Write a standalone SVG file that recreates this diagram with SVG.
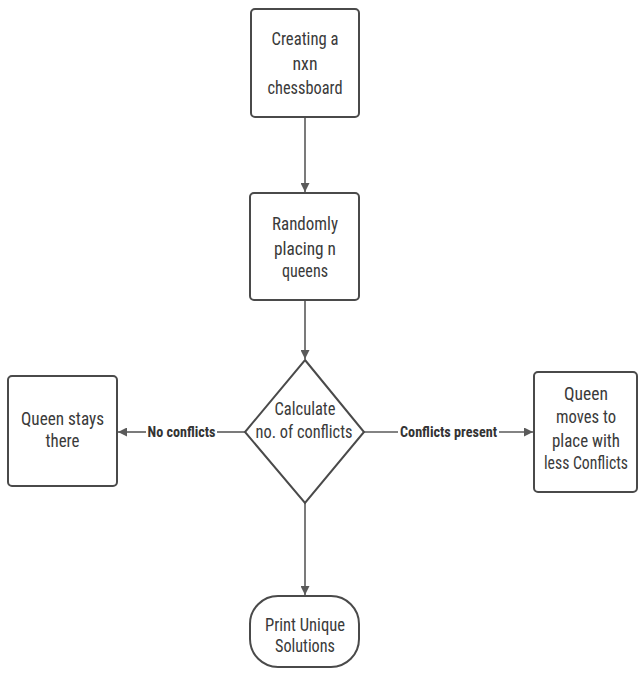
<svg xmlns="http://www.w3.org/2000/svg" width="638" height="673" viewBox="0 0 638 673">
<style>
.node{fill:#ffffff;stroke:#4a4a4a;stroke-width:2}
.t{font-family:"Liberation Sans Narrow","Roboto Condensed","Liberation Sans",Arial,sans-serif;font-size:19px;fill:#3a3a3a;text-anchor:middle}
.s{font-size:18px}
.lbl{font-family:"Liberation Sans Narrow","Roboto Condensed","Liberation Sans",Arial,sans-serif;font-size:14px;font-weight:bold;fill:#333;text-anchor:middle}
.edge{stroke:#5a5a5a;stroke-width:1.6;fill:none}
</style>
<defs>
<marker id="ah" viewBox="0 0 10 10" refX="10" refY="5" markerWidth="10" markerHeight="9" markerUnits="userSpaceOnUse" orient="auto">
<path d="M0,0 L10,5 L0,10 Z" fill="#5a5a5a"/>
</marker>
</defs>
<rect width="638" height="673" fill="#ffffff"/>
<g id="connectors">
<line class="edge" x1="305" y1="117" x2="305" y2="192" marker-end="url(#ah)"/>
<line class="edge" x1="305" y1="300" x2="305" y2="359" marker-end="url(#ah)"/>
<line class="edge" x1="245" y1="432" x2="217" y2="432"/>
<line class="edge" x1="146" y1="432" x2="118" y2="432" marker-end="url(#ah)"/>
<text class="lbl" x="181.5" y="437" textLength="68" lengthAdjust="spacingAndGlyphs">No conflicts</text>
<line class="edge" x1="364" y1="432" x2="398" y2="432"/>
<line class="edge" x1="499" y1="432" x2="533" y2="432" marker-end="url(#ah)"/>
<text class="lbl" x="448.5" y="437" textLength="97" lengthAdjust="spacingAndGlyphs">Conflicts present</text>
<line class="edge" x1="305" y1="503" x2="305" y2="595" marker-end="url(#ah)"/>
</g>
<g id="n1">
<rect class="node" x="251" y="9" width="108" height="108" rx="4"/>
<text class="t" x="305" y="45" textLength="67" lengthAdjust="spacingAndGlyphs">Creating a</text>
<text class="t" x="305" y="70" textLength="25" lengthAdjust="spacingAndGlyphs">nxn</text>
<text class="t" x="305" y="94" textLength="75" lengthAdjust="spacingAndGlyphs">chessboard</text>
</g>
<g id="n2">
<rect class="node" x="250" y="193" width="109" height="107" rx="4"/>
<text class="t" x="305" y="230" textLength="66" lengthAdjust="spacingAndGlyphs">Randomly</text>
<text class="t" x="305" y="255" textLength="62" lengthAdjust="spacingAndGlyphs">placing n</text>
<text class="t" x="305" y="277" textLength="46" lengthAdjust="spacingAndGlyphs">queens</text>
</g>
<g id="n3">
<polygon class="node" points="305,360 364,432 305,503 245,432"/>
<text class="t" x="305" y="415" textLength="61" lengthAdjust="spacingAndGlyphs">Calculate</text>
<text class="t" x="304" y="438" textLength="97" lengthAdjust="spacingAndGlyphs">no. of conflicts</text>
</g>
<g id="n4">
<rect class="node" x="8" y="376" width="109" height="110" rx="4"/>
<text class="t" x="62.5" y="425" textLength="83" lengthAdjust="spacingAndGlyphs">Queen stays</text>
<text class="t" x="62.5" y="447" textLength="34" lengthAdjust="spacingAndGlyphs">there</text>
</g>
<g id="n5">
<rect class="node" x="534" y="372" width="103" height="120" rx="4"/>
<text class="t s" x="586" y="400" textLength="44" lengthAdjust="spacingAndGlyphs">Queen</text>
<text class="t s" x="586" y="423" textLength="60" lengthAdjust="spacingAndGlyphs">moves to</text>
<text class="t s" x="586" y="447" textLength="68" lengthAdjust="spacingAndGlyphs">place with</text>
<text class="t s" x="586" y="469" textLength="84" lengthAdjust="spacingAndGlyphs">less Conflicts</text>
</g>
<g id="n6">
<rect class="node" x="250" y="596" width="109" height="71" rx="28"/>
<text class="t s" x="305" y="631" textLength="80" lengthAdjust="spacingAndGlyphs">Print Unique</text>
<text class="t s" x="305" y="652" textLength="60" lengthAdjust="spacingAndGlyphs">Solutions</text>
</g>
</svg>
